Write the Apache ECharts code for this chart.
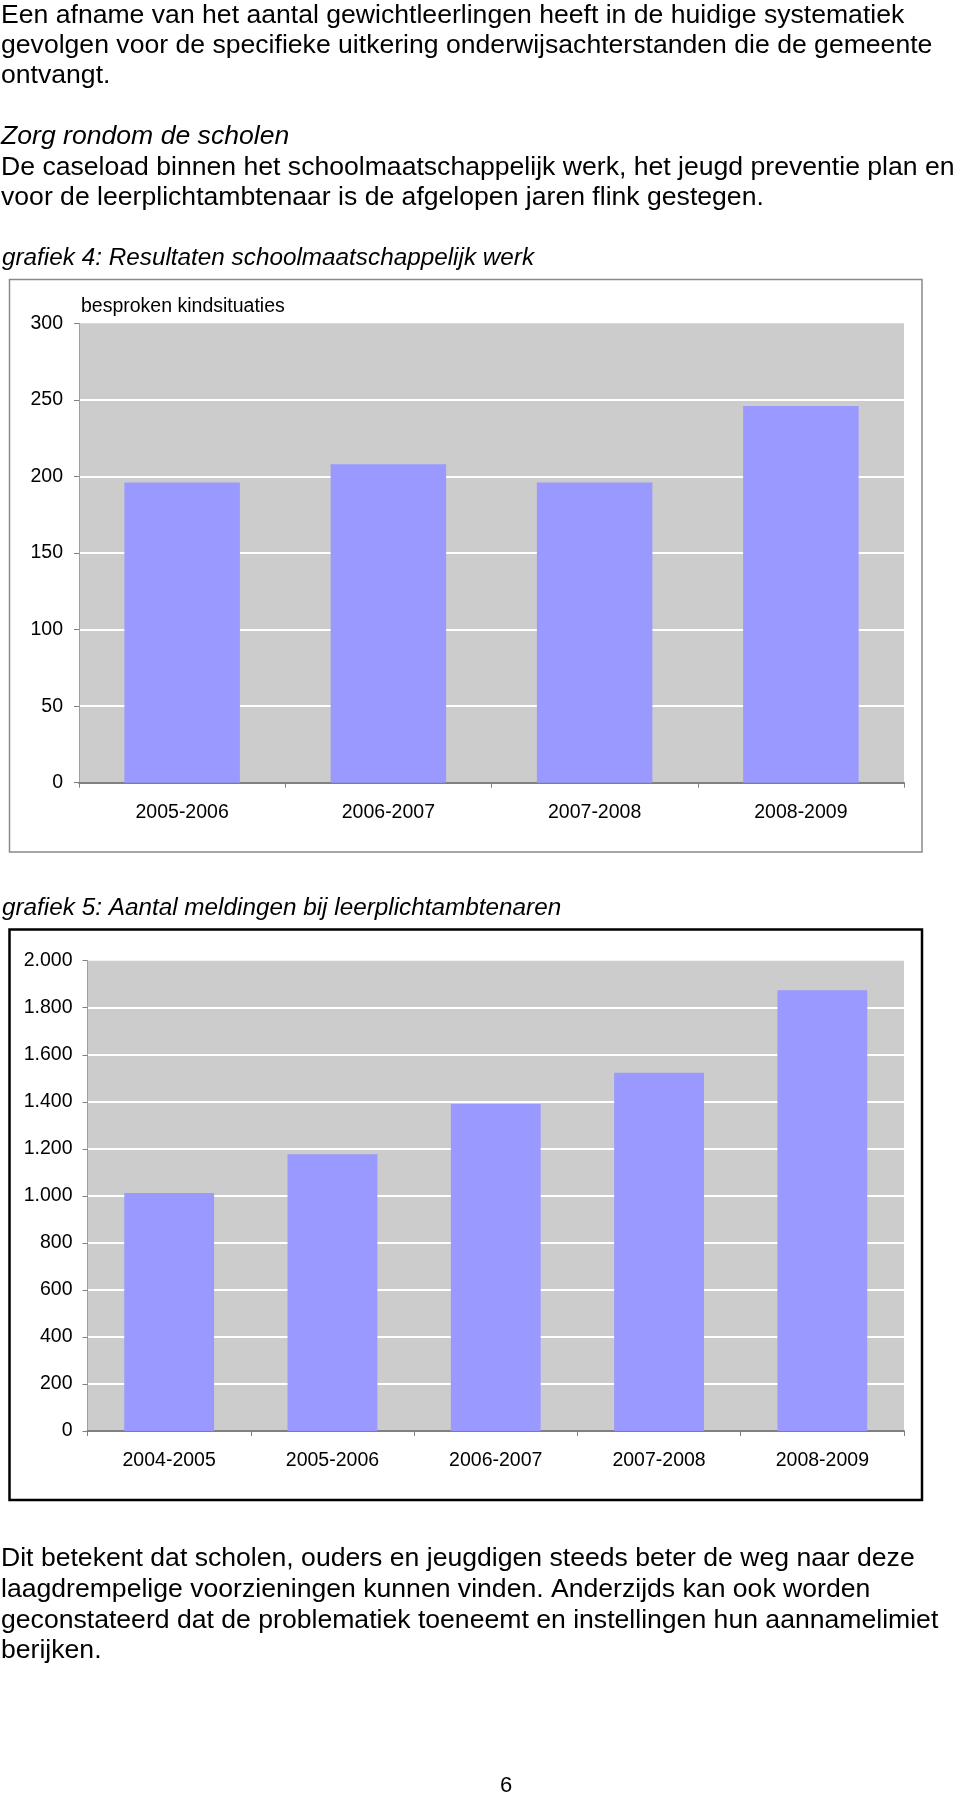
<!DOCTYPE html>
<html>
<head>
<meta charset="utf-8">
<script src="https://cdn.jsdelivr.net/npm/echarts@6/dist/echarts.min.js"></script>
<style>
html,body{margin:0;padding:0;background:#fff;}
#page{width:960px;height:1794px;}
</style>
</head>
<body>
<div id="page"></div>
<script>
// ---- data ----
const categories4 = ['2005-2006', '2006-2007', '2007-2008', '2008-2009'];
const values4 = [196, 208, 196, 246];
const yName4 = 'besproken kindsituaties';
const title4 = 'grafiek 4: Resultaten schoolmaatschappelijk werk';

const categories5 = ['2004-2005', '2005-2006', '2006-2007', '2007-2008', '2008-2009'];
const values5 = [1012, 1177, 1391, 1524, 1874];
const title5 = 'grafiek 5: Aantal meldingen bij leerplichtambtenaren';

const introLines = [
  'Een afname van het aantal gewichtleerlingen heeft in de huidige systematiek',
  'gevolgen voor de specifieke uitkering onderwijsachterstanden die de gemeente',
  'ontvangt.'
];
const sectionHeading = 'Zorg rondom de scholen';
const sectionLines = [
  'De caseload binnen het schoolmaatschappelijk werk, het jeugd preventie plan en',
  'voor de leerplichtambtenaar is de afgelopen jaren flink gestegen.'
];
const outroLines = [
  'Dit betekent dat scholen, ouders en jeugdigen steeds beter de weg naar deze',
  'laagdrempelige voorzieningen kunnen vinden. Anderzijds kan ook worden',
  'geconstateerd dat de problematiek toeneemt en instellingen hun aannamelimiet',
  'berijken.'
];
const pageNumber = '6';

// ---- helpers ----
const FF = '"Liberation Sans", Arial, Helvetica, sans-serif';
function nlNumber(v) {
  return String(v).replace(/\B(?=(\d{3})+(?!\d))/g, '.');
}
function textEl(str, x, y, size, italic, align) {
  return {
    type: 'text',
    x: 0, y: 0,
    style: {
      text: str, x: x, y: y,
      fill: '#000',
      fontSize: size, fontFamily: FF,
      fontStyle: italic ? 'italic' : 'normal',
      align: align || 'left', textAlign: align || 'left',
      verticalAlign: 'middle', textVerticalAlign: 'middle'
    },
    silent: true
  };
}

const BODY = 26.6;
const graphics = [];
[15.5, 45.5, 75.5].forEach((y, i) => graphics.push(textEl(introLines[i], 1, y, BODY)));
graphics.push(textEl(sectionHeading, 1, 137, BODY, true));
[167.5, 198].forEach((y, i) => graphics.push(textEl(sectionLines[i], 1, y, BODY)));
graphics.push(textEl(title4, 2, 258.5, 24.3, true));
graphics.push(textEl(title5, 2, 908.5, 24.3, true));
[1559, 1589.5, 1620.3, 1650.8].forEach((y, i) => graphics.push(textEl(outroLines[i], 1, y, BODY)));
graphics.push(textEl(pageNumber, 506, 1786, 22, false, 'center'));
// chart frames
graphics.push({
  type: 'rect', silent: true, z: -1,
  shape: { x: 9.5, y: 279.5, width: 912.5, height: 572.5 },
  style: { fill: 'none', stroke: '#8a8a8a', lineWidth: 1.5 }
});
graphics.push({
  type: 'rect', silent: true, z: -1,
  shape: { x: 9.5, y: 929.5, width: 912.5, height: 570.5 },
  style: { fill: 'none', stroke: '#000', lineWidth: 2.5 }
});

const labelStyle = { color: '#000', fontSize: 19.5, fontFamily: FF };
const grey = '#808080';

function makeX(gridIndex, cats) {
  return {
    type: 'category', gridIndex: gridIndex, data: cats, boundaryGap: true,
    axisLine: { show: true, lineStyle: { color: grey, width: 2 } },
    axisTick: { show: true, alignWithLabel: false, length: 5, lineStyle: { color: grey, width: 1 } },
    axisLabel: Object.assign({ margin: 19.5, interval: 0 }, labelStyle),
    splitLine: { show: false }
  };
}
function makeY(gridIndex, max, interval, fmt, margin, name) {
  return {
    type: 'value', gridIndex: gridIndex, min: 0, max: max, interval: interval,
    name: name || '', nameLocation: 'end', nameGap: 17,
    nameTextStyle: Object.assign({ align: 'left', verticalAlign: 'middle', padding: [0, 0, 0, 2] }, labelStyle),
    axisLine: { show: true, lineStyle: { color: '#a0a0a0', width: 1 } },
    axisTick: { show: true, length: 5, lineStyle: { color: grey, width: 1 } },
    axisLabel: Object.assign({ margin: margin, formatter: fmt }, labelStyle),
    splitLine: { show: true, showMinLine: false, showMaxLine: false, lineStyle: { color: '#ffffff', width: 2 } }
  };
}

const option = {
  backgroundColor: '#ffffff',
  animation: false,
  textStyle: { fontFamily: FF },
  grid: [
    { left: 79, top: 323.3, width: 825, height: 459.4, show: true, backgroundColor: '#cccccc', borderWidth: 0 },
    { left: 87.5, top: 960.7, width: 816.5, height: 470.3, show: true, backgroundColor: '#cccccc', borderWidth: 0 }
  ],
  xAxis: [makeX(0, categories4), makeX(1, categories5)],
  yAxis: [
    makeY(0, 300, 50, v => String(v), 16, yName4),
    makeY(1, 2000, 200, v => nlNumber(v), 15)
  ],
  series: [
    { type: 'bar', xAxisIndex: 0, yAxisIndex: 0, data: values4, barCategoryGap: '44%',
      itemStyle: { color: '#9999ff' }, silent: true },
    { type: 'bar', xAxisIndex: 1, yAxisIndex: 1, data: values5, barCategoryGap: '45%',
      itemStyle: { color: '#9999ff' }, silent: true }
  ],
  graphic: { elements: graphics }
};

const chart = echarts.init(document.getElementById('page'), null, { renderer: 'canvas', width: 960, height: 1794 });
chart.setOption(option);
</script>
</body>
</html>
